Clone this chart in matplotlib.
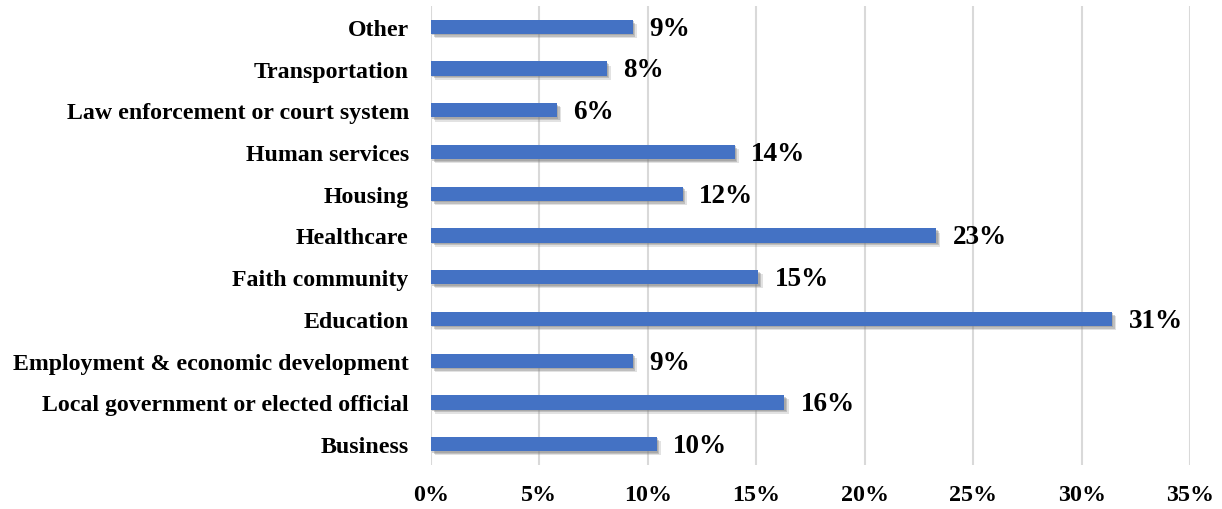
import matplotlib
matplotlib.use("Agg")
import matplotlib.pyplot as plt
import matplotlib.patheffects as pe

# Share of respondents by sector (bottom-to-top order as drawn)
sectors = [
    "Business",
    "Local government or elected official",
    "Employment & economic development",
    "Education",
    "Faith community",
    "Healthcare",
    "Housing",
    "Human services",
    "Law enforcement or court system",
    "Transportation",
    "Other",
]
shares = [10.4, 16.3, 9.3, 31.4, 15.1, 23.3, 11.6, 14.0, 5.8, 8.1, 9.3]
xticks = [0, 5, 10, 15, 20, 25, 30, 35]
xtick_labels = [f"{t}%" for t in xticks]

plt.rcParams["font.family"] = ["Liberation Serif", "DejaVu Serif"]
plt.rcParams["font.weight"] = "bold"

fig = plt.figure(figsize=(12.22, 5.10), dpi=100)
ax = fig.add_axes([431 / 1222, 1 - 466 / 510, (1190 - 431) / 1222, (466 - 7) / 510])

ypos = list(range(len(sectors)))
bars = ax.barh(ypos, shares, height=0.34, color="#4472C4", zorder=3)
for b in bars:
    b.set_path_effects([
        pe.SimplePatchShadow(offset=(3.0, -3.0), shadow_rgbFace="#8c8c8c", alpha=0.25),
        pe.SimplePatchShadow(offset=(2.0, -2.0), shadow_rgbFace="#7f7f7f", alpha=0.35),
        pe.SimplePatchShadow(offset=(1.0, -1.0), shadow_rgbFace="#7f7f7f", alpha=0.35),
        pe.Normal(),
    ])

for y, v in zip(ypos, shares):
    ax.annotate(f"{v:.0f}%", xy=(v, y), xytext=(12, -1), textcoords="offset points",
                va="center", ha="left", fontsize=19.5, fontweight="bold", color="black")

ax.set_xlim(0, 35)
ax.set_ylim(-0.5, len(sectors) - 0.5)
ax.set_xticks(xticks)
ax.set_xticklabels(xtick_labels, fontsize=17.3, fontweight="bold")
ax.set_yticks(ypos)
ax.set_yticklabels(sectors, fontsize=17.2, fontweight="bold")
ax.tick_params(axis="both", length=0)
ax.tick_params(axis="x", pad=14)
ax.tick_params(axis="y", pad=16)

ax.grid(axis="x", color="#d9d9d9", linewidth=1.5, zorder=0)
ax.grid(axis="y", visible=False)
for s in ax.spines.values():
    s.set_visible(False)

fig.savefig("out.png", dpi=100, facecolor="white")
